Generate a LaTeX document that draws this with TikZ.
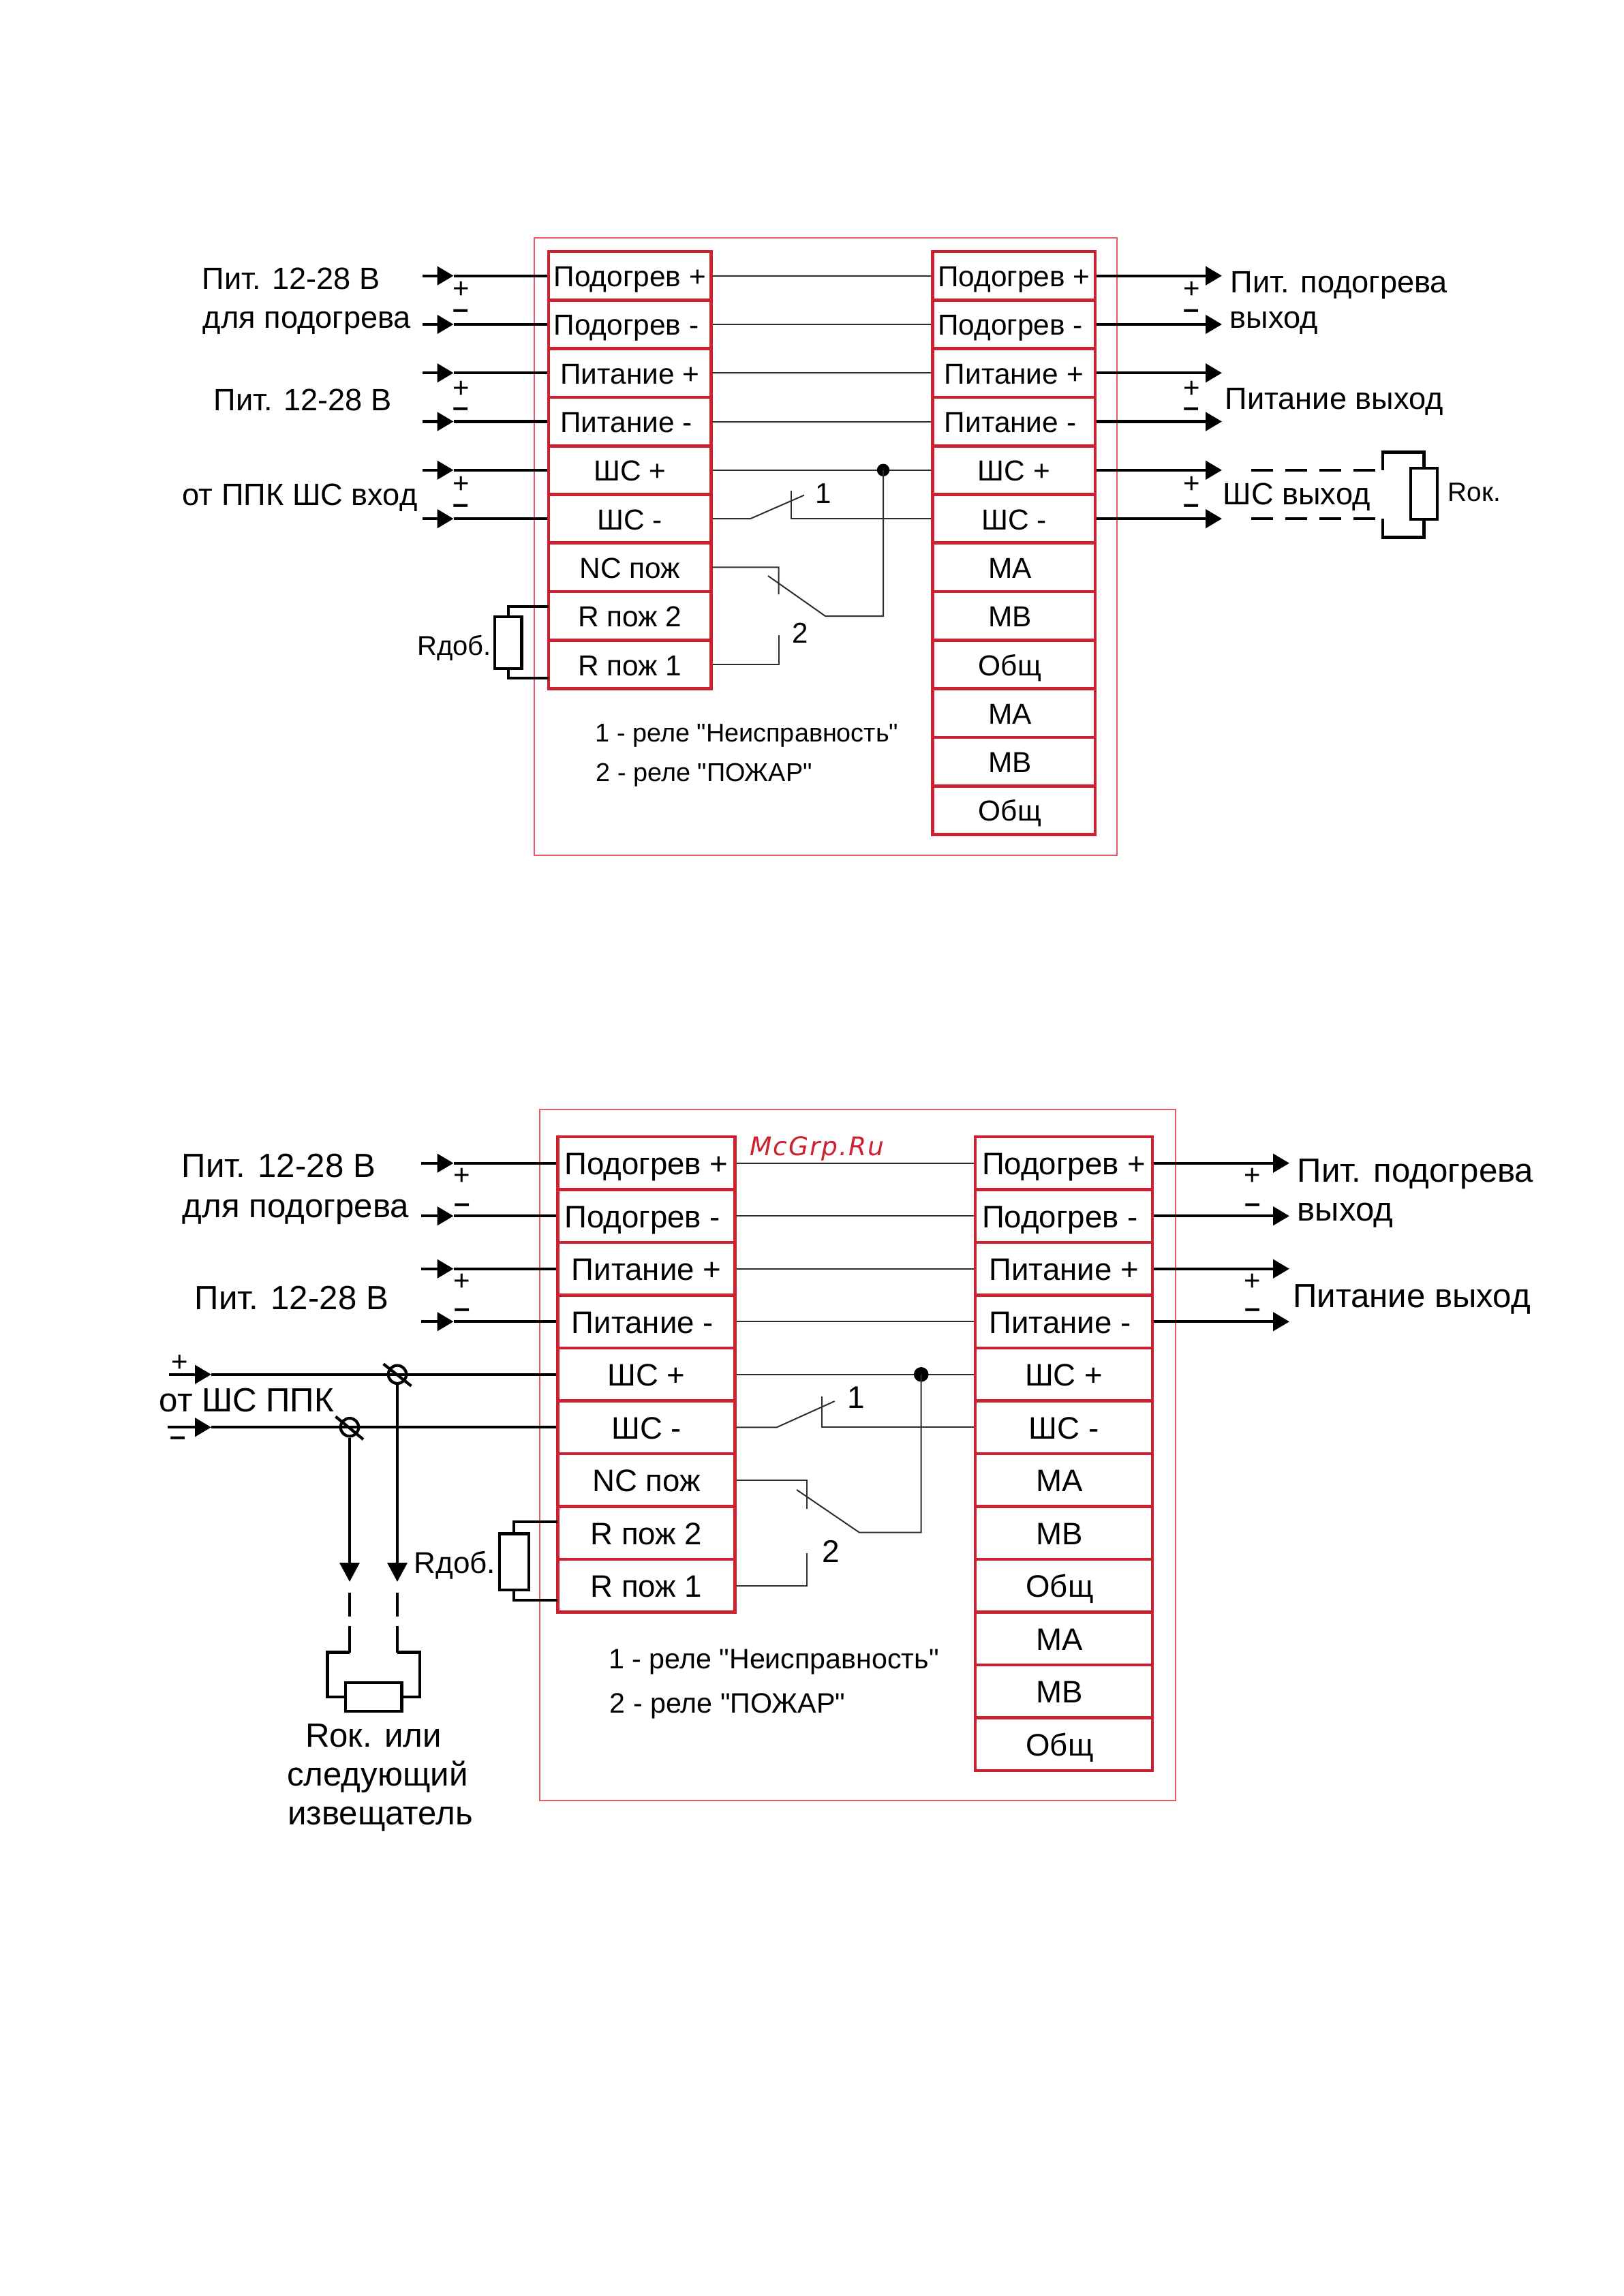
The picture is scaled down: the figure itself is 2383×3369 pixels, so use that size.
\documentclass[tikz,border=0pt]{standalone}
\usepackage{fontspec}
\setmainfont[Ligatures=TeXOff]{Liberation Sans}
\newfontfamily\wmfont[LetterSpace=5]{DejaVu Sans}
\usetikzlibrary{arrows.meta}
\definecolor{cellred}{RGB}{205,32,48}
\definecolor{framered}{RGB}{232,90,100}
\definecolor{wiregray}{RGB}{45,45,45}
\newcommand{\mn}{\rlap{-}\phantom{+}}
\tikzset{
    cellA/.style = {draw=cellred, line width=1.15pt, inner sep=0pt, minimum width=59.65pt, minimum height=17.85pt, text height=8pt, text depth=0pt, font=\fontsize{10.6}{12}\selectfont},
    cellB/.style = {draw=cellred, line width=1.15pt, inner sep=0pt, minimum width=65.05pt, minimum height=19.38pt, text height=8.6pt, text depth=0pt, font=\fontsize{11.4}{13}\selectfont},
    frameline/.style = {draw=framered, line width=0.5pt},
    wirethin/.style = {draw=wiregray, line width=0.5pt},
    wirethick/.style = {draw=black, line width=1.05pt},
    tip/.style = {wirethick, -{Triangle[length=6pt,width=6.8pt]}},
    tipbig/.style = {wirethick, -{Triangle[length=7pt,width=7.2pt]}},
    dashwire/.style = {wirethick, dash pattern=on 8pt off 4.5pt},
    lblA/.style = {inner sep=0pt, font=\fontsize{11.3}{13}\selectfont},
    lblB/.style = {inner sep=0pt, font=\fontsize{12.3}{14}\selectfont},
    noteA/.style = {inner sep=0pt, anchor=west, font=\fontsize{9.45}{11}\selectfont},
    noteB/.style = {inner sep=0pt, anchor=west, font=\fontsize{10.3}{12}\selectfont},
    sign/.style = {inner sep=0pt, font=\fontsize{10.5}{12}\selectfont},
    minus/.style = {inner sep=0pt, font=\bfseries\fontsize{10.5}{12}\selectfont},
    resbody/.style = {draw=black, line width=1.05pt, inner sep=0pt},
}
\begin{document}
\begin{tikzpicture}[x=0.25pt, y=-0.25pt]
    \useasboundingbox (0,0) rectangle (2383,3369);

    % upper scheme
    \draw[frameline] (784,349) rectangle (1639,1255);
    \foreach \i/\txt in {1/Подогрев +,2/Подогрев \mn,3/Питание +,4/Питание \mn,5/ШС +,6/ШС -,7/NC пож,8/R пож 2,9/R пож 1} {
        \pgfmathsetmacro{\yy}{369+35.65+71.3*(\i-1)}
        \node[cellA] (la\i) at (924.3,\yy) {\txt};
    }
    \foreach \i/\txt in {1/Подогрев +,2/Подогрев \mn,3/Питание +,4/Питание \mn,5/ШС +,6/ШС -,7/MA\kern3pt,8/MB\kern3pt,9/Общ\kern3pt,10/MA\kern3pt,11/MB\kern3pt,12/Общ\kern3pt} {
        \pgfmathsetmacro{\yy}{369+35.65+71.3*(\i-1)}
        \node[cellA] (ra\i) at (1487.8,\yy) {\txt};
    }
    \foreach \i in {1,...,6} {
        \pgfmathsetmacro{\yy}{369+35.65+71.3*(\i-1)}
        \coordinate (ina\i) at (619.5,\yy);
        \coordinate (ita\i) at (665.5,\yy);
        \coordinate (ota\i) at (1793,\yy);
        \draw[tip] (ina\i) -- (ita\i);
        \draw[wirethick] (ita\i) -- (la\i.west);
        \draw[tip] (ra\i.east) -- (ota\i);
    }
    \foreach \i in {1,...,5} {
        \draw[wirethin] (la\i.east) -- (ra\i.west);
    }
    % signs
    \foreach \j/\yp/\ym in {1/425/461,2/571/605,3/711/747} {
        \node[sign] (pla\j) at (677,\yp) {+};
        \node[minus] (mla\j) at (676,\ym) {–};
        \node[sign] (pra\j) at (1749,\yp) {+};
        \node[minus] (mra\j) at (1748,\ym) {–};
    }
    \node[lblA, anchor=west] (pita) at (296,409) {Пит. 12-28 В};
    \node[lblA, anchor=west] (poda) at (297,474) {для подогрева};
    \node[lblA, anchor=west] (pitb) at (313,587) {Пит. 12-28 В};
    \node[lblA, anchor=west] (ppka) at (267,730) {от ППК ШС вход};
    \node[lblA, anchor=west] (outa) at (1805,419) {Пит. подогрева};
    \node[lblA, anchor=west] (outb) at (1804,474) {выход};
    \node[lblA, anchor=west] (outc) at (1797,589) {Питание выход};
    \node[lblA, anchor=west] (outd) at (1794,729) {ШС выход};
    % relays
    \coordinate (cta1) at (1101,761.15);
    \coordinate (cta2) at (1180,726.6);
    \coordinate (cta3) at (1161,761.15);
    \coordinate (cta4) at (1161,720);
    \draw[wirethin] (la6.east) -- (cta1) -- (cta2);
    \draw[wirethin] (ra6.west) -- (cta3) -- (cta4);
    \coordinate (dota) at (1296,689.75);
    \fill (dota) circle (2.3pt);
    \coordinate (ctb1) at (1296,904);
    \coordinate (ctb2) at (1211,904);
    \coordinate (ctb3) at (1127,845);
    \draw[wirethin] (dota) -- (ctb1) -- (ctb2) -- (ctb3);
    \coordinate (ctb4) at (1142.5,832.45);
    \coordinate (ctb5) at (1142.5,872);
    \draw[wirethin] (la7.east) -- (ctb4) -- (ctb5);
    \coordinate (ctb6) at (1142.5,975.05);
    \coordinate (ctb7) at (1142.5,932);
    \draw[wirethin] (la9.east) -- (ctb6) -- (ctb7);
    \node[sign] (numa1) at (1208,724) {1};
    \node[sign] (numa2) at (1174,929) {2};
    \node[noteA] (notea1) at (873,1079) {1 - реле "Неисправность"};
    \node[noteA] (notea2) at (874,1137) {2 - реле "ПОЖАР"};
    % additional resistor
    \node[resbody, minimum width=9.9pt, minimum height=19pt] (rdoba) at (745.7,943) {};
    \coordinate (rdta) at (805,890);
    \coordinate (rdba) at (805,995);
    \draw[wirethick] (rdoba.north) |- (rdta);
    \draw[wirethick] (rdoba.south) |- (rdba);
    \node[inner sep=0pt, anchor=east, font=\fontsize{10}{12}\selectfont] (rdobla) at (721.5,951) {Rдоб.};
    % end resistor
    \node[resbody, minimum width=9.8pt, minimum height=18.8pt] (roka) at (2089.5,724.5) {};
    \coordinate (dsa1) at (1836,689.75);
    \coordinate (dsa2) at (2029,689.75);
    \coordinate (dsa3) at (1836,761.15);
    \coordinate (dsa4) at (2029,761.15);
    \coordinate (dsa5) at (2029,663.5);
    \coordinate (dsa6) at (2029,788.5);
    \draw[dashwire] (dsa1) -- (dsa2);
    \draw[dashwire] (dsa3) -- (dsa4);
    \draw[wirethick] (dsa2) -- (dsa5) -| (roka.north);
    \draw[wirethick] (dsa4) -- (dsa6) -| (roka.south);
    \node[inner sep=0pt, anchor=west, font=\fontsize{9.7}{12}\selectfont] (rokla) at (2124,722) {Rок.};

    % lower scheme
    \draw[frameline] (791.5,1628) rectangle (1725,2642);
    \foreach \i/\txt in {1/Подогрев +,2/Подогрев \mn,3/Питание +,4/Питание \mn,5/ШС +,6/ШС -,7/NC пож,8/R пож 2,9/R пож 1} {
        \pgfmathsetmacro{\yy}{1668+38.75+77.5*(\i-1)}
        \node[cellB] (lb\i) at (948.5,\yy) {\txt};
    }
    \foreach \i/\txt in {1/Подогрев +,2/Подогрев \mn,3/Питание +,4/Питание \mn,5/ШС +,6/ШС -,7/MA\kern3pt,8/MB\kern3pt,9/Общ\kern3pt,10/MA\kern3pt,11/MB\kern3pt,12/Общ\kern3pt} {
        \pgfmathsetmacro{\yy}{1668+38.75+77.5*(\i-1)}
        \node[cellB] (rb\i) at (1561,\yy) {\txt};
    }
    \foreach \i in {1,...,4} {
        \pgfmathsetmacro{\yy}{1668+38.75+77.5*(\i-1)}
        \coordinate (inb\i) at (618,\yy);
        \coordinate (itb\i) at (665.5,\yy);
        \coordinate (otb\i) at (1892,\yy);
        \draw[tip] (inb\i) -- (itb\i);
        \draw[wirethick] (itb\i) -- (lb\i.west);
        \draw[tip] (rb\i.east) -- (otb\i);
    }
    \foreach \i in {1,...,5} {
        \draw[wirethin] (lb\i.east) -- (rb\i.west);
    }
    \foreach \j/\yp/\ym in {1/1726/1773,2/1881/1927} {
        \node[sign] (plb\j) at (677.5,\yp) {+};
        \node[minus] (mlb\j) at (678,\ym) {–};
        \node[sign] (prb\j) at (1838,\yp) {+};
        \node[minus] (mrb\j) at (1838,\ym) {–};
    }
    \node[lblB, anchor=west] (pitc) at (266,1711) {Пит. 12-28 В};
    \node[lblB, anchor=west] (podb) at (267,1778) {для подогрева};
    \node[lblB, anchor=west] (pitd) at (285,1905) {Пит. 12-28 В};
    \node[lblB, anchor=west] (oute) at (1903,1723) {Пит. подогрева};
    \node[lblB, anchor=west] (outf) at (1903,1783) {выход};
    \node[lblB, anchor=west] (outg) at (1896.5,1906) {Питание выход};
    \node[lblB, anchor=west] (ppkb) at (233,2055) {от ШС ППК};
    \node[sign] (plc) at (264,2000) {+};
    \node[minus] (mlc) at (261,2115) {–};
    % loop input with terminals
    \coordinate (inc5) at (248,2016.75);
    \coordinate (itc5) at (310,2016.75);
    \coordinate (inc6) at (246,2094.25);
    \coordinate (itc6) at (310,2094.25);
    \draw[tip] (inc5) -- (itc5);
    \draw[wirethick] (itc5) -- (lb5.west);
    \draw[tip] (inc6) -- (itc6);
    \draw[wirethick] (itc6) -- (lb6.west);
    \node[circle, draw=black, line width=1.05pt, inner sep=0pt, minimum size=6.6pt] (tmp) at (583,2016.75) {};
    \node[circle, draw=black, line width=1.05pt, inner sep=0pt, minimum size=6.6pt] (tmm) at (513,2094.25) {};
    \draw[wirethick] (562.7,2001.4) -- (603.5,2033.7);
    \draw[wirethick] (492.5,2078.6) -- (533,2112);
    \coordinate (atp) at (583,2321);
    \coordinate (atm) at (513,2321);
    \draw[tipbig] (tmp.south) -- (atp);
    \draw[tipbig] (tmm.south) -- (atm);
    \coordinate (dsp1) at (583,2337);
    \coordinate (dsp2) at (583,2424.5);
    \coordinate (dsm1) at (513,2337);
    \coordinate (dsm2) at (513,2424.5);
    \draw[wirethick, dash pattern=on 8.8pt off 3.5pt on 10pt off 0pt] (dsp1) -- (dsp2);
    \draw[wirethick, dash pattern=on 8.8pt off 3.5pt on 10pt off 0pt] (dsm1) -- (dsm2);
    \node[resbody, minimum width=20.7pt, minimum height=10.5pt] (rokb) at (548,2490) {};
    \coordinate (rkp) at (616,2424.5);
    \coordinate (rkm) at (480.5,2424.5);
    \draw[wirethick] (dsp2) -- (rkp) |- (rokb.east);
    \draw[wirethick] (dsm2) -- (rkm) |- (rokb.west);
    \node[lblB] (rokc1) at (548,2547) {Rок. или};
    \node[lblB] (rokc2) at (554,2607) {следующий};
    \node[lblB] (rokc3) at (558,2669) {извещатель};
    % relays
    \coordinate (ctc1) at (1140,2094.25);
    \coordinate (ctc2) at (1224.7,2056);
    \coordinate (ctc3) at (1205.6,2094.25);
    \coordinate (ctc4) at (1205.6,2049);
    \draw[wirethin] (lb6.east) -- (ctc1) -- (ctc2);
    \draw[wirethin] (rb6.west) -- (ctc3) -- (ctc4);
    \coordinate (dotb) at (1351.7,2016.75);
    \fill (dotb) circle (2.7pt);
    \coordinate (ctd1) at (1351.7,2248.5);
    \coordinate (ctd2) at (1260.7,2248.5);
    \coordinate (ctd3) at (1169,2186);
    \draw[wirethin] (dotb) -- (ctd1) -- (ctd2) -- (ctd3);
    \coordinate (ctd4) at (1184,2171.75);
    \coordinate (ctd5) at (1184,2214);
    \draw[wirethin] (lb7.east) -- (ctd4) -- (ctd5);
    \coordinate (ctd6) at (1184,2326.75);
    \coordinate (ctd7) at (1184,2279);
    \draw[wirethin] (lb9.east) -- (ctd6) -- (ctd7);
    \node[inner sep=0pt, font=\fontsize{11.5}{13}\selectfont] (numb1) at (1256,2051) {1};
    \node[inner sep=0pt, font=\fontsize{11.5}{13}\selectfont] (numb2) at (1219,2276) {2};
    \node[noteB] (noteb1) at (892.5,2439) {1 - реле "Неисправность"};
    \node[noteB] (noteb2) at (894,2503) {2 - реле "ПОЖАР"};
    % additional resistor
    \node[resbody, minimum width=10.7pt, minimum height=20.6pt] (rdobb) at (754.3,2291.7) {};
    \coordinate (rdtb) at (818.4,2233);
    \coordinate (rdbb) at (818.4,2348);
    \draw[wirethick] (rdobb.north) |- (rdtb);
    \draw[wirethick] (rdobb.south) |- (rdbb);
    \node[inner sep=0pt, anchor=east, font=\fontsize{11}{13}\selectfont] (rdoblb) at (728,2297) {Rдоб.};
    % site mark
    \node[inner sep=0pt, anchor=west, text=cellred, font=\wmfont\itshape\fontsize{9.4}{11}\selectfont] (mark) at (1099.5,1685.5) {McGrp.Ru};
\end{tikzpicture}
\end{document}
